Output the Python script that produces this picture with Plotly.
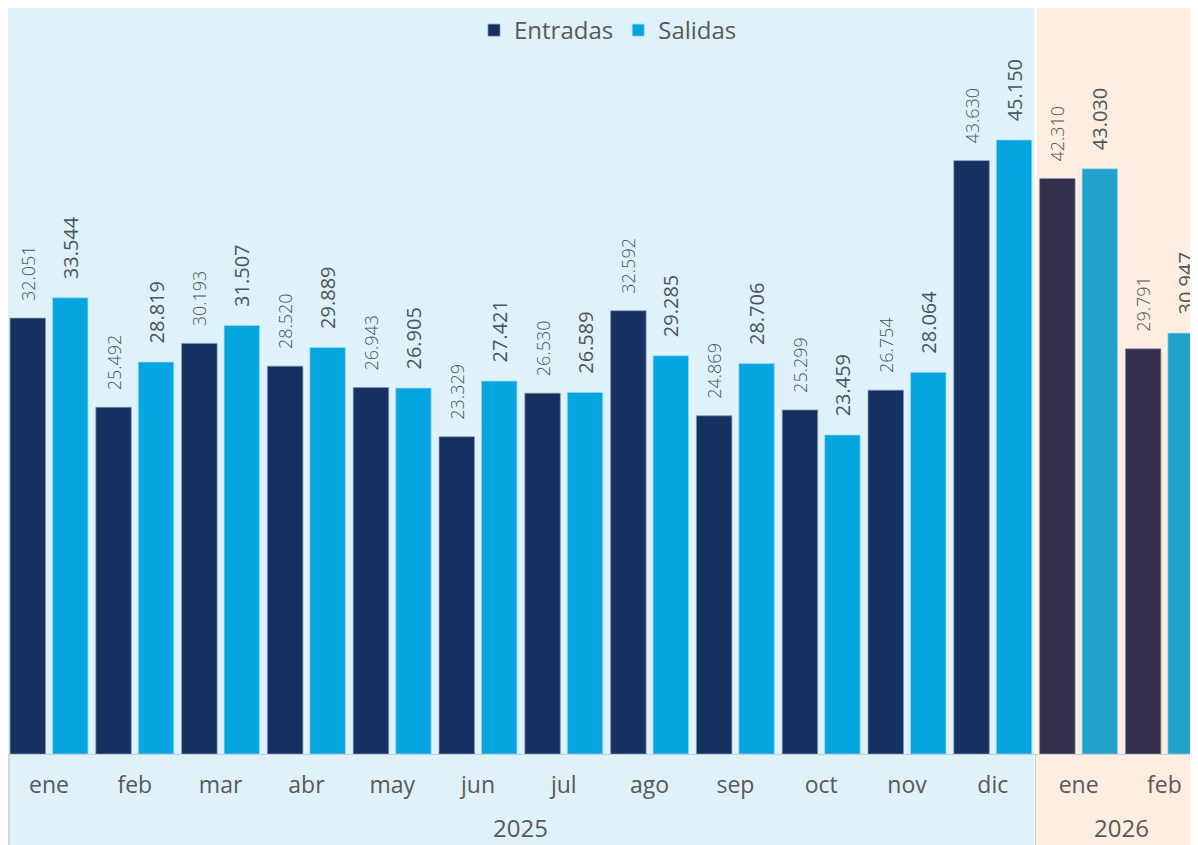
import plotly.graph_objects as go

years = ["2025"] * 12 + ["2026"] * 2
months = ["ene", "feb", "mar", "abr", "may", "jun", "jul", "ago", "sep", "oct", "nov", "dic", "ene", "feb"]
entradas = [32051, 25492, 30193, 28520, 26943, 23329, 26530, 32592, 24869, 25299, 26754, 43630, 42310, 29791]
salidas = [33544, 28819, 31507, 29889, 26905, 27421, 26589, 29285, 28706, 23459, 28064, 45150, 43030, 30947]

cats = [f"{m} {y}" for m, y in zip(months, years)]
year_list = sorted(set(years))

C_ENT = {"2025": "#153162", "2026": "#332E4C"}
C_SAL = {"2025": "#05A6E0", "2026": "#22A1CA"}
BG = {"2025": "#DFF2FA", "2026": "#FDEEE1"}
FONT = "Open Sans"
TXT = "#595959"
LBL = "#4C565C"
LINE = "#C4D0D8"

W, H = 1200, 837
ML, MR, MT, MB = 0, 0, 0, 91
PH = H - MT - MB
group_px = 85.8
x0 = -41.0 / group_px
xr = [x0, x0 + (W - ML - MR) / group_px]
yr = [0, PH / 0.0136]

pad = "\u00a0\u00a0\u00a0"
fig = go.Figure()
fig.add_trace(go.Bar(
    name="Entradas", x=cats, y=entradas,
    marker=dict(color=[C_ENT[y] for y in years], line=dict(width=0.8, color="rgba(130,150,175,0.9)")),
    texttemplate=pad + "%{y:,}", textposition="outside", textangle=-90,
    outsidetextfont=dict(family=FONT, size=18, color=LBL, weight=300),
    constraintext="none", cliponaxis=False,
))
fig.add_trace(go.Bar(
    name="Salidas", x=cats, y=salidas,
    marker=dict(color=[C_SAL[y] for y in years], line=dict(width=0.8, color="rgba(160,215,240,0.9)")),
    texttemplate=pad + "%{y:,}", textposition="outside", textangle=-90,
    outsidetextfont=dict(family=FONT, size=20, color=LBL),
    constraintext="none", cliponaxis=False,
))

ybot = -MB / PH
gap = 1.3 / group_px
for yv in year_list:
    idx = [i for i, y in enumerate(years) if y == yv]
    lo, hi = idx[0] - 0.5, idx[-1] + 0.5
    fig.add_shape(type="rect", xref="x", yref="paper",
                  x0=lo + (gap if lo > -0.5 else 0), x1=hi - (gap if hi < len(years) - 0.5 else 0),
                  y0=ybot, y1=1, fillcolor=BG[yv], line=dict(width=0), layer="below")
    fig.add_annotation(x=(idx[0] + idx[-1]) / 2, y=-73 / PH, xref="x", yref="paper",
                       text=yv, showarrow=False, xanchor="center", yanchor="middle",
                       font=dict(family=FONT, size=24, color=TXT))
    if hi < len(years) - 0.5:
        fig.add_shape(type="line", xref="x", yref="paper", x0=hi, x1=hi, y0=ybot, y1=0,
                      line=dict(color=LINE, width=1.2))
fig.add_shape(type="line", xref="paper", yref="paper", x0=0.0008, x1=0.0008, y0=ybot, y1=0,
              line=dict(color=LINE, width=1.5))

fig.update_layout(
    width=W, height=H, margin=dict(l=ML, r=MR, t=MT, b=MB),
    paper_bgcolor="white", plot_bgcolor="rgba(0,0,0,0)",
    barmode="group", bargap=0.01, bargroupgap=0.165,
    separators=",.",
    font=dict(family=FONT, color=TXT),
    showlegend=True,
    legend=dict(orientation="h", x=0.5, xanchor="center", y=1.0, yanchor="top",
                font=dict(size=24, color=TXT), bgcolor="rgba(0,0,0,0)"),
    xaxis=dict(type="category", range=xr, showline=True, linecolor=LINE, linewidth=1,
               tickvals=cats, ticktext=months, ticks="", ticklabelstandoff=10,
               tickfont=dict(size=23, color=TXT), showgrid=False, zeroline=False),
    yaxis=dict(range=yr, visible=False, showgrid=False, zeroline=False),
)

fig.write_html("out.html")
